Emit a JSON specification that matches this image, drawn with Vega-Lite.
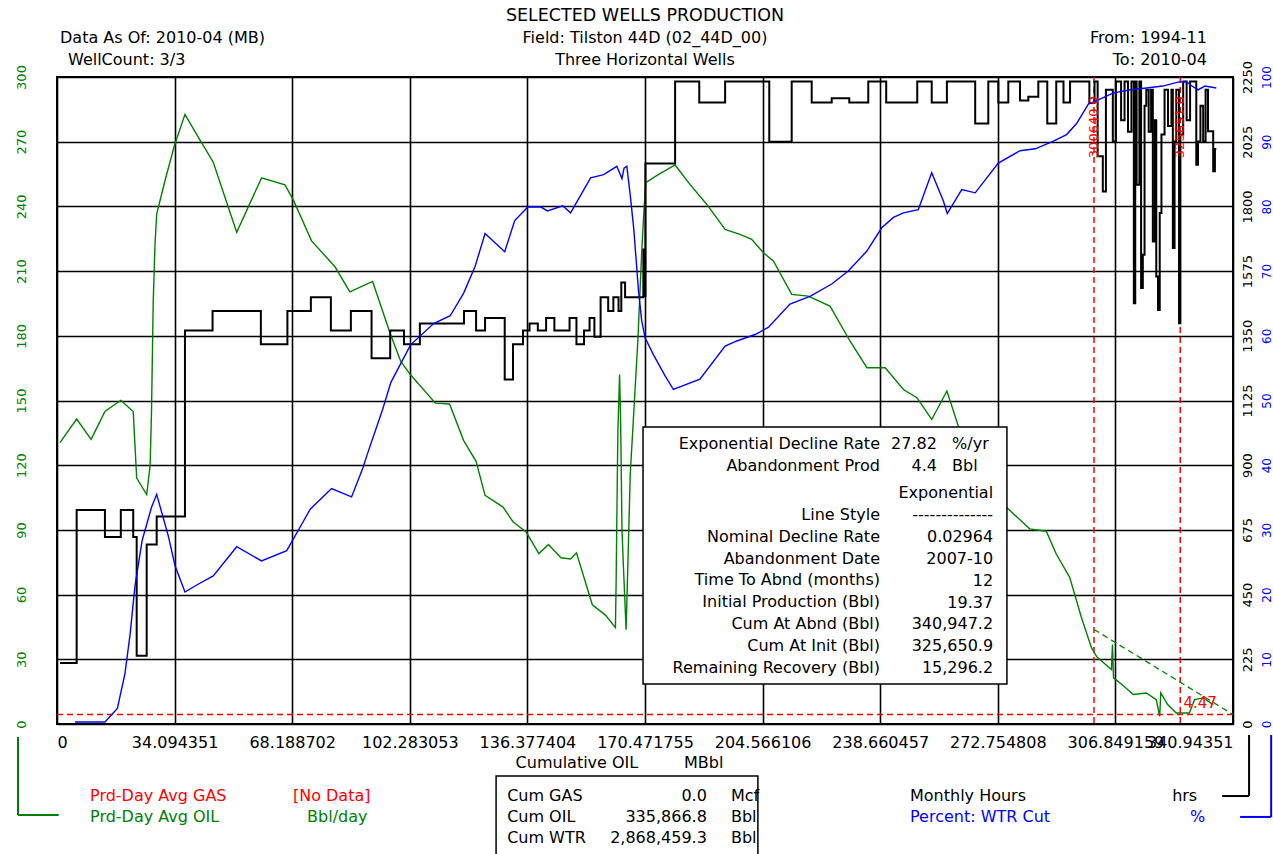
{
  "$schema": "https://vega.github.io/schema/vega-lite/v6.json",
  "width": 1176,
  "height": 647,
  "autosize": {"type": "none"},
  "padding": {"left": 57, "top": 77, "right": 40, "bottom": 130},
  "background": "#ffffff",
  "config": {
    "font": "DejaVu Sans",
    "view": {"stroke": "#000000", "strokeWidth": 2},
    "text": {"font": "DejaVu Sans", "fontSize": 16, "color": "#000000"},
    "axis": {"labelFont": "DejaVu Sans", "titleFont": "DejaVu Sans"}
  },
  "datasets": {
    "oil": [
      {"cum":0.87,"rate":130.5},{"cum":5.7,"rate":141.4},{"cum":9.9,"rate":132},{"cum":13.9,"rate":144.9},{"cum":18.5,"rate":150.1},{"cum":22.1,"rate":144.9},{"cum":23.1,"rate":114},{"cum":26.0,"rate":106.4},{"cum":27.0,"rate":119.9},{"cum":27.4,"rate":144.9},{"cum":27.9,"rate":196},{"cum":28.4,"rate":222},{"cum":28.9,"rate":236.4},{"cum":31.3,"rate":251.9},{"cum":34.0,"rate":268},{"cum":37.1,"rate":282.7},{"cum":41.0,"rate":272},{"cum":45.3,"rate":260.5},{"cum":52.1,"rate":228},{"cum":59.3,"rate":253.2},{"cum":66.1,"rate":250},{"cum":68.5,"rate":243},{"cum":73.8,"rate":224},{"cum":80.6,"rate":212},{"cum":84.9,"rate":200.4},{"cum":91.5,"rate":205.2},{"cum":96.6,"rate":181.1},{"cum":99.7,"rate":168},{"cum":102.5,"rate":161.9},{"cum":109.7,"rate":148.8},{"cum":113.8,"rate":148.4},{"cum":117.9,"rate":131.4},{"cum":121.5,"rate":121.8},{"cum":124.1,"rate":106},{"cum":129.3,"rate":100.6},{"cum":132.2,"rate":93.8},{"cum":136.0,"rate":89},{"cum":139.7,"rate":79},{"cum":142.5,"rate":83.2},{"cum":146.1,"rate":77.1},{"cum":148.9,"rate":76.5},{"cum":150.6,"rate":79.4},{"cum":155.2,"rate":55.3},{"cum":159.0,"rate":50.5},{"cum":161.9,"rate":44.7},{"cum":162.1,"rate":65.9},{"cum":162.6,"rate":135},{"cum":163.1,"rate":162},{"cum":163.4,"rate":141},{"cum":163.8,"rate":90},{"cum":164.2,"rate":73.6},{"cum":165.0,"rate":43.7},{"cum":165.5,"rate":73.6},{"cum":166.2,"rate":116},{"cum":167.3,"rate":146.8},{"cum":168.4,"rate":177.7},{"cum":169.5,"rate":218},{"cum":170.2,"rate":239},{"cum":170.7,"rate":251},{"cum":174.3,"rate":254.7},{"cum":179.2,"rate":259.2},{"cum":183.5,"rate":250.2},{"cum":188.4,"rate":240.9},{"cum":193.7,"rate":229.3},{"cum":198.0,"rate":227},{"cum":201.4,"rate":224.7},{"cum":204.8,"rate":218.5},{"cum":207.7,"rate":214.7},{"cum":213.0,"rate":199.2},{"cum":217.8,"rate":198.4},{"cum":224.1,"rate":193.8},{"cum":229.9,"rate":177.6},{"cum":234.8,"rate":165.2},{"cum":240.1,"rate":165.2},{"cum":245.4,"rate":155.1},{"cum":249.3,"rate":151.3},{"cum":253.6,"rate":141.2},{"cum":258.0,"rate":154.4},{"cum":261.3,"rate":138.2},{"cum":268.0,"rate":119},{"cum":275.2,"rate":100.6},{"cum":282.0,"rate":90.5},{"cum":286.8,"rate":89.4},{"cum":289.7,"rate":78.8},{"cum":293.6,"rate":68},{"cum":297.0,"rate":49.4},{"cum":299.9,"rate":35.4},{"cum":301.5,"rate":31},{"cum":305.7,"rate":25.3},{"cum":306.0,"rate":36.9},{"cum":306.3,"rate":21.4},{"cum":309.0,"rate":18},{"cum":312.0,"rate":13.7},{"cum":315.8,"rate":14.4},{"cum":318.7,"rate":11.3},{"cum":319.7,"rate":3.6},{"cum":320.0,"rate":14.4},{"cum":322.0,"rate":9},{"cum":324.5,"rate":5.1},{"cum":328.3,"rate":5.1},{"cum":329.8,"rate":11.3},{"cum":332.3,"rate":12.1},{"cum":335.2,"rate":9.0}
    ],
    "hours": [
      {"cum":0.87,"hours":212},{"cum":5.7,"hours":744},{"cum":13.9,"hours":650},{"cum":18.5,"hours":744},{"cum":22.1,"hours":650},{"cum":23.1,"hours":237},{"cum":26.0,"hours":624},{"cum":28.9,"hours":722},{"cum":37.1,"hours":1368},{"cum":45.1,"hours":1436},{"cum":59.1,"hours":1321},{"cum":66.8,"hours":1436},{"cum":73.6,"hours":1484},{"cum":79.4,"hours":1368},{"cum":85.2,"hours":1436},{"cum":91.2,"hours":1272},{"cum":96.6,"hours":1368},{"cum":100.6,"hours":1321},{"cum":105.2,"hours":1393},{"cum":118.0,"hours":1436},{"cum":121.5,"hours":1368},{"cum":124.1,"hours":1412},{"cum":129.8,"hours":1198},{"cum":132.2,"hours":1321},{"cum":135.1,"hours":1368},{"cum":137.0,"hours":1393},{"cum":139.4,"hours":1368},{"cum":141.8,"hours":1412},{"cum":144.2,"hours":1368},{"cum":148.6,"hours":1412},{"cum":150.6,"hours":1321},{"cum":152.8,"hours":1368},{"cum":154.4,"hours":1412},{"cum":155.8,"hours":1347},{"cum":157.6,"hours":1484},{"cum":159.8,"hours":1436},{"cum":161.3,"hours":1484},{"cum":162.8,"hours":1436},{"cum":163.6,"hours":1535},{"cum":164.7,"hours":1484},{"cum":170.0,"hours":1650},{"cum":170.3,"hours":1488},{"cum":170.6,"hours":1949},{"cum":179.2,"hours":2234},{"cum":186.2,"hours":2161},{"cum":193.7,"hours":2234},{"cum":206.5,"hours":2025},{"cum":213.0,"hours":2234},{"cum":218.8,"hours":2161},{"cum":224.6,"hours":2176},{"cum":229.7,"hours":2161},{"cum":235.2,"hours":2234},{"cum":240.4,"hours":2161},{"cum":249.4,"hours":2234},{"cum":253.6,"hours":2161},{"cum":258.0,"hours":2234},{"cum":266.2,"hours":2088},{"cum":270.0,"hours":2234},{"cum":272.9,"hours":2161},{"cum":275.8,"hours":2234},{"cum":279.2,"hours":2168},{"cum":281.6,"hours":2181},{"cum":284.5,"hours":2234},{"cum":287.1,"hours":2088},{"cum":289.7,"hours":2234},{"cum":291.8,"hours":2161},{"cum":293.7,"hours":2234},{"cum":299.3,"hours":2160},{"cum":300.8,"hours":2234},{"cum":301.7,"hours":1974},{"cum":303.2,"hours":1852},{"cum":304.1,"hours":2206},{"cum":306.1,"hours":2026},{"cum":307.0,"hours":2234},{"cum":308.5,"hours":2100},{"cum":309.5,"hours":2234},{"cum":310.5,"hours":2060},{"cum":311.5,"hours":2234},{"cum":312.2,"hours":1463},{"cum":312.6,"hours":2234},{"cum":313.0,"hours":1875},{"cum":313.8,"hours":2234},{"cum":314.3,"hours":1516},{"cum":314.8,"hours":1632},{"cum":315.3,"hours":2150},{"cum":315.8,"hours":2206},{"cum":316.5,"hours":2060},{"cum":317.2,"hours":2206},{"cum":317.7,"hours":1678},{"cum":318.3,"hours":2100},{"cum":318.7,"hours":1556},{"cum":319.2,"hours":1440},{"cum":319.7,"hours":1777},{"cum":320.2,"hours":2050},{"cum":321.1,"hours":2206},{"cum":322.1,"hours":2080},{"cum":323.1,"hours":2206},{"cum":323.5,"hours":1655},{"cum":324.0,"hours":2026},{"cum":324.5,"hours":2206},{"cum":325.3,"hours":1394},{"cum":325.7,"hours":2050},{"cum":326.5,"hours":2234},{"cum":327.5,"hours":2100},{"cum":328.5,"hours":2234},{"cum":330.3,"hours":1945},{"cum":330.8,"hours":2026},{"cum":331.5,"hours":2150},{"cum":332.3,"hours":2026},{"cum":333.0,"hours":2206},{"cum":333.7,"hours":2061},{"cum":335.2,"hours":1922},{"cum":335.7,"hours":2000},{"cum":336.1,"hours":2000}
    ],
    "wcut": [
      {"cum":5.2,"wcut":0.3},{"cum":13.9,"wcut":0.3},{"cum":17.5,"wcut":2.4},{"cum":19.7,"wcut":7.8},{"cum":21.2,"wcut":13.9},{"cum":22.6,"wcut":21.3},{"cum":24.7,"wcut":28.4},{"cum":27.4,"wcut":33.5},{"cum":28.9,"wcut":35.5},{"cum":32.3,"wcut":29},{"cum":34.2,"wcut":24.5},{"cum":37.1,"wcut":20.4},{"cum":40.9,"wcut":21.6},{"cum":45.3,"wcut":22.9},{"cum":52.1,"wcut":27.4},{"cum":59.3,"wcut":25.2},{"cum":66.6,"wcut":26.8},{"cum":71.4,"wcut":31.3},{"cum":73.4,"wcut":33.2},{"cum":79.6,"wcut":36.4},{"cum":85.4,"wcut":35.1},{"cum":88.7,"wcut":39.6},{"cum":89.9,"wcut":41.6},{"cum":94.4,"wcut":48.6},{"cum":96.8,"wcut":52.8},{"cum":102.5,"wcut":58.6},{"cum":109.2,"wcut":61.9},{"cum":114.0,"wcut":63.1},{"cum":117.9,"wcut":66.6},{"cum":121.2,"wcut":70.7},{"cum":124.1,"wcut":75.8},{"cum":129.8,"wcut":73.0},{"cum":132.7,"wcut":77.8},{"cum":136.5,"wcut":79.9},{"cum":140.3,"wcut":79.9},{"cum":142.2,"wcut":79.3},{"cum":146.6,"wcut":80.1},{"cum":148.9,"wcut":79.0},{"cum":154.7,"wcut":84.4},{"cum":158.5,"wcut":84.9},{"cum":162.3,"wcut":86.2},{"cum":163.8,"wcut":84.3},{"cum":164.4,"wcut":85.9},{"cum":165.2,"wcut":86.2},{"cum":166.2,"wcut":81.7},{"cum":167.2,"wcut":76.6},{"cum":168.6,"wcut":66.9},{"cum":169.5,"wcut":62.4},{"cum":170.5,"wcut":59.7},{"cum":172.9,"wcut":57.1},{"cum":176.3,"wcut":53.8},{"cum":178.7,"wcut":51.7},{"cum":186.4,"wcut":53.3},{"cum":193.7,"wcut":58.4},{"cum":197.1,"wcut":59.2},{"cum":202.4,"wcut":60.2},{"cum":206.2,"wcut":61.3},{"cum":212.5,"wcut":64.9},{"cum":218.3,"wcut":66.1},{"cum":224.6,"wcut":68.0},{"cum":229.4,"wcut":70.0},{"cum":234.8,"wcut":73.1},{"cum":239.1,"wcut":76.7},{"cum":242.5,"wcut":78.3},{"cum":245.4,"wcut":79.0},{"cum":249.7,"wcut":79.5},{"cum":253.6,"wcut":85.2},{"cum":257.0,"wcut":80.8},{"cum":258.1,"wcut":78.9},{"cum":262.3,"wcut":82.6},{"cum":266.2,"wcut":82.1},{"cum":272.9,"wcut":86.7},{"cum":279.2,"wcut":88.6},{"cum":283.6,"wcut":88.9},{"cum":288.9,"wcut":90.1},{"cum":292.7,"wcut":91.1},{"cum":295.6,"wcut":92.8},{"cum":299.0,"wcut":95.8},{"cum":302.1,"wcut":96.5},{"cum":306.1,"wcut":97.5},{"cum":310.9,"wcut":98.0},{"cum":315.8,"wcut":98.3},{"cum":320.6,"wcut":98.6},{"cum":325.0,"wcut":99.2},{"cum":327.4,"wcut":99.3},{"cum":328.5,"wcut":98.8},{"cum":330.8,"wcut":98.0},{"cum":332.8,"wcut":98.6},{"cum":336.1,"wcut":98.3}
    ],
    "decline": [
      {"cum":300.64,"rate":43.85},{"cum":340.947,"rate":4.4}
    ],
    "markers": [
      {"cum":300.64,"label":"300640.0"},{"cum":325.65,"label":"325651.0"}
    ]
  },
  "layer": [
    {
      "data": {"name": "oil"},
      "mark": {"type": "line", "color": "#008000", "strokeWidth": 1.4},
      "encoding": {
        "x": {"field": "cum", "type": "quantitative",
          "scale": {"domain": [0, 340.94351], "nice": false, "zero": false},
          "axis": {"values": [0, 34.094351, 68.188702, 102.283053, 136.377404, 170.471755, 204.566106, 238.660457, 272.754808, 306.849159, 340.94351],
            "format": ".6~f", "labelFlush": true, "labelOverlap": false, "labelBound": false,
            "grid": true, "gridColor": "#000000", "gridWidth": 1.6, "gridOpacity": 1,
            "ticks": false, "tickSize": 0, "domain": false,
            "labelPadding": 18, "labelBaseline": "middle", "labelFontSize": 16, "labelColor": "#000000",
            "title": "Cumulative OIL\u00a0\u00a0\u00a0\u00a0\u00a0\u00a0\u00a0\u00a0\u00a0MBbl", "titleFontSize": 16, "titleFontWeight": "normal", "titleColor": "#000000",
            "titleX": 562, "titleY": 38, "titleBaseline": "middle", "titleAlign": "center"}},
        "y": {"field": "rate", "type": "quantitative",
          "scale": {"domain": [0, 300], "nice": false, "zero": false},
          "axis": {"values": [0, 30, 60, 90, 120, 150, 180, 210, 240, 270, 300],
            "grid": true, "gridColor": "#000000", "gridWidth": 1.6, "gridOpacity": 1,
            "ticks": false, "tickSize": 0, "domain": false,
            "labelAngle": 270, "labelAlign": "center", "labelBaseline": "middle", "labelPadding": 36,
            "labelFontSize": 13, "labelColor": "#008000", "labelOverlap": false, "labelBound": false, "title": null}}
      }
    },
    {
      "data": {"values": [{}]},
      "mark": {"type": "rule", "color": "#ff0000", "strokeDash": [6, 4], "strokeWidth": 1.5},
      "encoding": {"y": {"datum": 4.4, "type": "quantitative", "scale": {"domain": [0, 300], "nice": false, "zero": false}, "axis": null}}
    },
    {
      "data": {"name": "markers"},
      "mark": {"type": "rule", "color": "#ff0000", "strokeDash": [6, 4], "strokeWidth": 1.5},
      "encoding": {"x": {"field": "cum", "type": "quantitative"}}
    },
    {
      "data": {"name": "decline"},
      "mark": {"type": "line", "color": "#008000", "strokeDash": [6, 4], "strokeWidth": 1.3},
      "encoding": {
        "x": {"field": "cum", "type": "quantitative"},
        "y": {"field": "rate", "type": "quantitative", "scale": {"domain": [0, 300], "nice": false, "zero": false}, "axis": null}
      }
    },
    {
      "data": {"name": "hours"},
      "mark": {"type": "line", "color": "#000000", "strokeWidth": 2, "interpolate": "step-after"},
      "encoding": {
        "x": {"field": "cum", "type": "quantitative"},
        "y": {"field": "hours", "type": "quantitative",
          "scale": {"domain": [0, 2250], "nice": false, "zero": false},
          "axis": {"orient": "right", "values": [0, 225, 450, 675, 900, 1125, 1350, 1575, 1800, 2025, 2250], "format": "d",
            "grid": false, "ticks": false, "tickSize": 0, "domain": false,
            "labelAngle": 270, "labelAlign": "center", "labelBaseline": "middle", "labelPadding": 14,
            "labelFontSize": 13, "labelColor": "#000000", "labelOverlap": false, "labelBound": false, "title": null}}
      }
    },
    {
      "data": {"name": "wcut"},
      "mark": {"type": "line", "color": "#0000ff", "strokeWidth": 1.4},
      "encoding": {
        "x": {"field": "cum", "type": "quantitative"},
        "y": {"field": "wcut", "type": "quantitative",
          "scale": {"domain": [0, 100], "nice": false, "zero": false},
          "axis": {"orient": "right", "values": [0, 10, 20, 30, 40, 50, 60, 70, 80, 90, 100], "format": "d",
            "grid": false, "ticks": false, "tickSize": 0, "domain": false,
            "labelAngle": 270, "labelAlign": "center", "labelBaseline": "middle", "labelPadding": 33,
            "labelFontSize": 12, "labelColor": "#0000ff", "labelOverlap": false, "labelBound": false, "title": null}}
      }
    },
    {
      "data": {"name": "markers"},
      "mark": {"type": "text", "color": "#ff0000", "fontSize": 13, "angle": 270, "align": "center", "baseline": "middle", "dx": -7},
      "encoding": {
        "x": {"field": "cum", "type": "quantitative"},
        "y": {"datum": 280, "type": "quantitative", "scale": {"domain": [0, 300], "nice": false, "zero": false}, "axis": null},
        "text": {"field": "label"}
      }
    },
    {
      "data": {"values": [{}]},
      "mark": {"type": "text", "color": "#ff0000", "fontSize": 15, "align": "center", "baseline": "middle"},
      "encoding": {
        "x": {"datum": 331.4, "type": "quantitative"},
        "y": {"datum": 9.7, "type": "quantitative", "scale": {"domain": [0, 300], "nice": false, "zero": false}, "axis": null},
        "text": {"value": "4.47"}
      }
    },
    {
      "data": {"values": [{}]},
      "mark": {"type": "rect", "fill": "#ffffff", "stroke": "#000000", "strokeWidth": 1.5},
      "encoding": {
        "x": {"datum": 169.9, "type": "quantitative"},
        "x2": {"datum": 275.4},
        "y": {"datum": 137.7, "type": "quantitative", "scale": {"domain": [0, 300], "nice": false, "zero": false}, "axis": null},
        "y2": {"datum": 18.5}
      }
    },
    {
      "data": {"values": [{}]},
      "mark": {"type": "text", "align": "right", "baseline": "middle", "lineHeight": 21.7},
      "encoding": {
        "x": {"datum": 238.6, "type": "quantitative"},
        "y": {"datum": 129.8, "type": "quantitative", "scale": {"domain": [0, 300], "nice": false, "zero": false}, "axis": null},
        "text": {"value": ["Exponential Decline Rate", "Abandonment Prod"]}
      }
    },
    {
      "data": {"values": [{}]},
      "mark": {"type": "text", "align": "right", "baseline": "middle", "lineHeight": 21.7},
      "encoding": {
        "x": {"datum": 255.1, "type": "quantitative"},
        "y": {"datum": 129.8, "type": "quantitative", "scale": {"domain": [0, 300], "nice": false, "zero": false}, "axis": null},
        "text": {"value": ["27.82", "4.4"]}
      }
    },
    {
      "data": {"values": [{}]},
      "mark": {"type": "text", "align": "left", "baseline": "middle", "lineHeight": 21.7},
      "encoding": {
        "x": {"datum": 259.5, "type": "quantitative"},
        "y": {"datum": 129.8, "type": "quantitative", "scale": {"domain": [0, 300], "nice": false, "zero": false}, "axis": null},
        "text": {"value": ["%/yr", "Bbl"]}
      }
    },
    {
      "data": {"values": [{}]},
      "mark": {"type": "text", "align": "right", "baseline": "middle", "lineHeight": 21.875},
      "encoding": {
        "x": {"datum": 238.6, "type": "quantitative"},
        "y": {"datum": 97.0, "type": "quantitative", "scale": {"domain": [0, 300], "nice": false, "zero": false}, "axis": null},
        "text": {"value": ["Line Style", "Nominal Decline Rate", "Abandonment Date", "Time To Abnd (months)", "Initial Production (Bbl)", "Cum At Abnd (Bbl)", "Cum At Init (Bbl)", "Remaining Recovery (Bbl)"]}
      }
    },
    {
      "data": {"values": [{}]},
      "mark": {"type": "text", "align": "right", "baseline": "middle", "lineHeight": 21.875},
      "encoding": {
        "x": {"datum": 271.4, "type": "quantitative"},
        "y": {"datum": 107.0, "type": "quantitative", "scale": {"domain": [0, 300], "nice": false, "zero": false}, "axis": null},
        "text": {"value": ["Exponential", "--------------", "0.02964", "2007-10", "12", "19.37", "340,947.2", "325,650.9", "15,296.2"]}
      }
    },
    {
      "data": {"values": [{}]},
      "mark": {"type": "text", "align": "center", "baseline": "middle", "fontSize": 17.5},
      "encoding": {
        "x": {"datum": 170.47, "type": "quantitative"},
        "y": {"datum": 328.3, "type": "quantitative", "scale": {"domain": [0, 300], "nice": false, "zero": false}, "axis": null},
        "text": {"value": "SELECTED WELLS PRODUCTION"}
      }
    },
    {
      "data": {"values": [{}]},
      "mark": {"type": "text", "align": "center", "baseline": "middle", "lineHeight": 22},
      "encoding": {
        "x": {"datum": 170.47, "type": "quantitative"},
        "y": {"datum": 318.1, "type": "quantitative", "scale": {"domain": [0, 300], "nice": false, "zero": false}, "axis": null},
        "text": {"value": ["Field: Tilston 44D (02_44D_00)", "Three Horizontal Wells"]}
      }
    },
    {
      "data": {"values": [{}]},
      "mark": {"type": "text", "align": "left", "baseline": "middle"},
      "encoding": {
        "x": {"datum": 0.87, "type": "quantitative"},
        "y": {"datum": 318.1, "type": "quantitative", "scale": {"domain": [0, 300], "nice": false, "zero": false}, "axis": null},
        "text": {"value": "Data As Of: 2010-04 (MB)"}
      }
    },
    {
      "data": {"values": [{}]},
      "mark": {"type": "text", "align": "left", "baseline": "middle"},
      "encoding": {
        "x": {"datum": 3.19, "type": "quantitative"},
        "y": {"datum": 307.9, "type": "quantitative", "scale": {"domain": [0, 300], "nice": false, "zero": false}, "axis": null},
        "text": {"value": "WellCount: 3/3"}
      }
    },
    {
      "data": {"values": [{}]},
      "mark": {"type": "text", "align": "right", "baseline": "middle", "lineHeight": 22},
      "encoding": {
        "x": {"datum": 333.4, "type": "quantitative"},
        "y": {"datum": 318.1, "type": "quantitative", "scale": {"domain": [0, 300], "nice": false, "zero": false}, "axis": null},
        "text": {"value": ["From: 1994-11", "To: 2010-04"]}
      }
    },
    {
      "data": {"values": [{}]},
      "mark": {"type": "text", "align": "left", "baseline": "middle", "color": "#ff0000"},
      "encoding": {
        "x": {"datum": 9.57, "type": "quantitative"},
        "y": {"datum": -33.4, "type": "quantitative", "scale": {"domain": [0, 300], "nice": false, "zero": false}, "axis": null},
        "text": {"value": "Prd-Day Avg GAS"}
      }
    },
    {
      "data": {"values": [{}]},
      "mark": {"type": "text", "align": "left", "baseline": "middle", "color": "#ff0000"},
      "encoding": {
        "x": {"datum": 68.4, "type": "quantitative"},
        "y": {"datum": -33.4, "type": "quantitative", "scale": {"domain": [0, 300], "nice": false, "zero": false}, "axis": null},
        "text": {"value": "[No Data]"}
      }
    },
    {
      "data": {"values": [{}]},
      "mark": {"type": "text", "align": "left", "baseline": "middle", "color": "#008000"},
      "encoding": {
        "x": {"datum": 9.57, "type": "quantitative"},
        "y": {"datum": -43.1, "type": "quantitative", "scale": {"domain": [0, 300], "nice": false, "zero": false}, "axis": null},
        "text": {"value": "Prd-Day Avg OIL"}
      }
    },
    {
      "data": {"values": [{}]},
      "mark": {"type": "text", "align": "left", "baseline": "middle", "color": "#008000"},
      "encoding": {
        "x": {"datum": 72.5, "type": "quantitative"},
        "y": {"datum": -43.1, "type": "quantitative", "scale": {"domain": [0, 300], "nice": false, "zero": false}, "axis": null},
        "text": {"value": "Bbl/day"}
      }
    },
    {
      "data": {"values": [{}]},
      "mark": {"type": "rect", "fill": "#ffffff", "stroke": "#000000", "strokeWidth": 1.5},
      "encoding": {
        "x": {"datum": 127.3, "type": "quantitative"},
        "x2": {"datum": 203.2},
        "y": {"datum": -24.1, "type": "quantitative", "scale": {"domain": [0, 300], "nice": false, "zero": false}, "axis": null},
        "y2": {"datum": -63}
      }
    },
    {
      "data": {"values": [{}]},
      "mark": {"type": "text", "align": "left", "baseline": "middle", "lineHeight": 21},
      "encoding": {
        "x": {"datum": 130.5, "type": "quantitative"},
        "y": {"datum": -33.4, "type": "quantitative", "scale": {"domain": [0, 300], "nice": false, "zero": false}, "axis": null},
        "text": {"value": ["Cum GAS", "Cum OIL", "Cum WTR"]}
      }
    },
    {
      "data": {"values": [{}]},
      "mark": {"type": "text", "align": "right", "baseline": "middle", "lineHeight": 21},
      "encoding": {
        "x": {"datum": 188.4, "type": "quantitative"},
        "y": {"datum": -33.4, "type": "quantitative", "scale": {"domain": [0, 300], "nice": false, "zero": false}, "axis": null},
        "text": {"value": ["0.0", "335,866.8", "2,868,459.3"]}
      }
    },
    {
      "data": {"values": [{}]},
      "mark": {"type": "text", "align": "left", "baseline": "middle", "lineHeight": 21},
      "encoding": {
        "x": {"datum": 195.4, "type": "quantitative"},
        "y": {"datum": -33.4, "type": "quantitative", "scale": {"domain": [0, 300], "nice": false, "zero": false}, "axis": null},
        "text": {"value": ["Mcf", "Bbl", "Bbl"]}
      }
    },
    {
      "data": {"values": [{}]},
      "mark": {"type": "text", "align": "left", "baseline": "middle"},
      "encoding": {
        "x": {"datum": 247.3, "type": "quantitative"},
        "y": {"datum": -33.4, "type": "quantitative", "scale": {"domain": [0, 300], "nice": false, "zero": false}, "axis": null},
        "text": {"value": "Monthly Hours"}
      }
    },
    {
      "data": {"values": [{}]},
      "mark": {"type": "text", "align": "left", "baseline": "middle"},
      "encoding": {
        "x": {"datum": 323.3, "type": "quantitative"},
        "y": {"datum": -33.4, "type": "quantitative", "scale": {"domain": [0, 300], "nice": false, "zero": false}, "axis": null},
        "text": {"value": "hrs"}
      }
    },
    {
      "data": {"values": [{}]},
      "mark": {"type": "text", "align": "left", "baseline": "middle", "color": "#0000ff"},
      "encoding": {
        "x": {"datum": 247.3, "type": "quantitative"},
        "y": {"datum": -43.1, "type": "quantitative", "scale": {"domain": [0, 300], "nice": false, "zero": false}, "axis": null},
        "text": {"value": "Percent: WTR Cut"}
      }
    },
    {
      "data": {"values": [{}]},
      "mark": {"type": "text", "align": "left", "baseline": "middle", "color": "#0000ff"},
      "encoding": {
        "x": {"datum": 328.5, "type": "quantitative"},
        "y": {"datum": -43.1, "type": "quantitative", "scale": {"domain": [0, 300], "nice": false, "zero": false}, "axis": null},
        "text": {"value": "%"}
      }
    },
    {
      "data": {"values": [{}]},
      "mark": {"type": "rule", "color": "#008000", "strokeWidth": 2},
      "encoding": {
        "x": {"datum": -11.3, "type": "quantitative"},
        "y": {"datum": -6.0, "type": "quantitative", "scale": {"domain": [0, 300], "nice": false, "zero": false}, "axis": null},
        "y2": {"datum": -42.2}
      }
    },
    {
      "data": {"values": [{}]},
      "mark": {"type": "rule", "color": "#008000", "strokeWidth": 2},
      "encoding": {
        "x": {"datum": -11.3, "type": "quantitative"},
        "x2": {"datum": 0.5},
        "y": {"datum": -42.2, "type": "quantitative", "scale": {"domain": [0, 300], "nice": false, "zero": false}, "axis": null}
      }
    },
    {
      "data": {"values": [{}]},
      "mark": {"type": "rule", "color": "#000000", "strokeWidth": 2},
      "encoding": {
        "x": {"datum": 337.8, "type": "quantitative"},
        "x2": {"datum": 345.6},
        "y": {"datum": -33.4, "type": "quantitative", "scale": {"domain": [0, 300], "nice": false, "zero": false}, "axis": null}
      }
    },
    {
      "data": {"values": [{}]},
      "mark": {"type": "rule", "color": "#000000", "strokeWidth": 2},
      "encoding": {
        "x": {"datum": 345.6, "type": "quantitative"},
        "y": {"datum": -33.4, "type": "quantitative", "scale": {"domain": [0, 300], "nice": false, "zero": false}, "axis": null},
        "y2": {"datum": -5.1}
      }
    },
    {
      "data": {"values": [{}]},
      "mark": {"type": "rule", "color": "#0000ff", "strokeWidth": 2},
      "encoding": {
        "x": {"datum": 343.0, "type": "quantitative"},
        "x2": {"datum": 352.0},
        "y": {"datum": -43.1, "type": "quantitative", "scale": {"domain": [0, 300], "nice": false, "zero": false}, "axis": null}
      }
    },
    {
      "data": {"values": [{}]},
      "mark": {"type": "rule", "color": "#0000ff", "strokeWidth": 2},
      "encoding": {
        "x": {"datum": 352.0, "type": "quantitative"},
        "y": {"datum": -43.1, "type": "quantitative", "scale": {"domain": [0, 300], "nice": false, "zero": false}, "axis": null},
        "y2": {"datum": -5.1}
      }
    }
  ],
  "resolve": {"scale": {"y": "independent"}}
}
